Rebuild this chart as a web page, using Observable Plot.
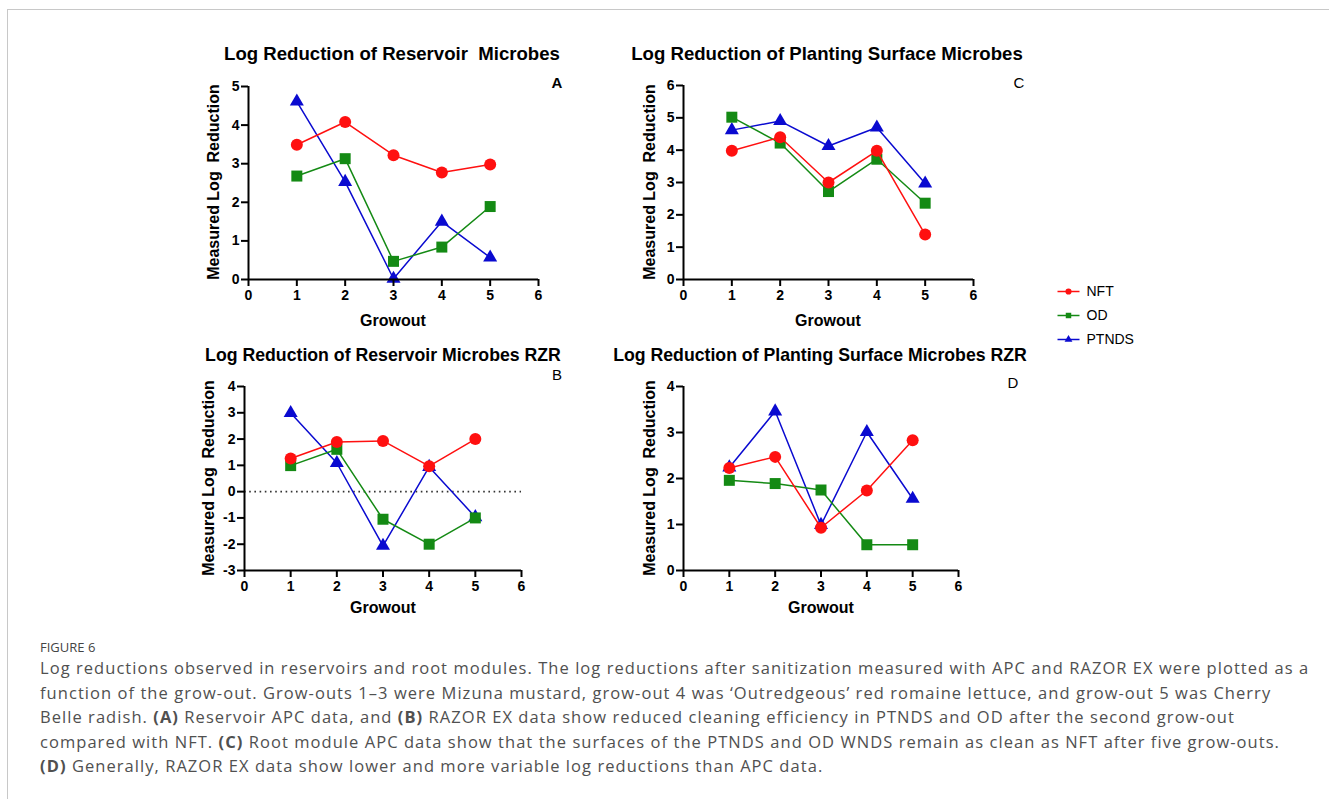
<!DOCTYPE html>
<html>
<head>
<meta charset="utf-8">
<script src="https://cdn.jsdelivr.net/npm/d3@7"></script>
<script src="https://cdn.jsdelivr.net/npm/@observablehq/plot@0.6"></script>
<style>
  html, body { margin: 0; padding: 0; background: #fff; }
  #root { position: relative; width: 1329px; height: 799px; overflow: hidden; font-family: "Liberation Sans", Arial, sans-serif; }
  .border { position: absolute; left: 7px; top: 9px; right: -2px; bottom: -2px; border-top: 1px solid #c8c8c8; border-left: 1px solid #c8c8c8; }
  .abs { position: absolute; white-space: pre; }
  .title { font-weight: bold; font-size: 18.6px; color: #000; transform: translate(-50%, -50%); }
  .title2 { font-weight: bold; font-size: 17.7px; color: #000; transform: translate(-50%, -50%); }
  .xlab { font-weight: bold; font-size: 16px; color: #000; transform: translate(-50%, -50%); }
  .ylab { font-weight: bold; font-size: 16px; color: #000; transform: translate(-50%, -50%) rotate(-90deg); }
  .letter { font-size: 15px; color: #000; transform: translate(-50%, -50%); }
  .caption { font-family: "Open Sans", sans-serif; color: #505050; }
  svg { overflow: visible; }
</style>
</head>
<body>
<div id="root">
  <div class="border"></div>
</div>
<script>
// ---------------- data ----------------
const growout = [1, 2, 3, 4, 5];
const seriesNames = ["NFT", "OD", "PTNDS"];
const seriesColors = ["#ff1010", "#148a14", "#0a0ad0"];
const seriesSymbols = ["circle", "square", "triangle"];
const xTicks = [0, 1, 2, 3, 4, 5, 6];

// Panel A: Log Reduction of Reservoir Microbes (APC)
const resNFT   = [3.49, 4.08, 3.22, 2.77, 2.98];
const resOD    = [2.68, 3.13, 0.47, 0.84, 1.89];
const resPTNDS = [4.61, 2.53, 0.02, 1.50, 0.57];
// Panel C: Log Reduction of Planting Surface Microbes (APC)
const surfNFT   = [3.98, 4.40, 3.00, 3.98, 1.39];
const surfOD    = [5.02, 4.22, 2.72, 3.72, 2.36];
const surfPTNDS = [4.62, 4.90, 4.13, 4.70, 2.97];
// Panel B: Log Reduction of Reservoir Microbes RZR
const resRzrNFT   = [1.26, 1.89, 1.93, 0.97, 2.00];
const resRzrOD    = [0.99, 1.61, -1.05, -2.00, -1.00];
const resRzrPTNDS = [2.99, 1.09, -2.06, 0.94, -0.97];
// Panel D: Log Reduction of Planting Surface Microbes RZR
const surfRzrNFT   = [2.23, 2.47, 0.93, 1.74, 2.83];
const surfRzrOD    = [1.96, 1.89, 1.75, 0.56, 0.56];
const surfRzrPTNDS = [2.24, 3.46, 0.99, 3.01, 1.56];

const titleA = "Log Reduction of Reservoir  Microbes";
const titleB = "Log Reduction of Reservoir Microbes RZR";
const titleC = "Log Reduction of Planting Surface Microbes";
const titleD = "Log Reduction of Planting Surface Microbes RZR";
const xLabel = "Growout";
const yLabel = "Measured Log  Reduction";

const captionHead = "FIGURE 6";

// ---------------- helpers ----------------
const root = document.getElementById("root");

function addDiv(cls, text, left, top, html) {
  const d = document.createElement("div");
  d.className = "abs " + cls;
  if (html) d.innerHTML = text; else d.textContent = text;
  d.style.left = left + "px";
  d.style.top = top + "px";
  root.appendChild(d);
  return d;
}

function rowsFor(values, name) {
  return growout.map((g, i) => ({ x: g, y: values[i], s: name }));
}

function panel(cfg) {
  const yMin = cfg.yDomain[0];
  const marks = [];
  if (cfg.zeroLine) {
    marks.push(Plot.ruleY([0], { stroke: "#333", strokeWidth: 1.6, strokeDasharray: "1.6,3.6" }));
  }
  // draw PTNDS first, then OD, then NFT on top
  for (let k = seriesNames.length - 1; k >= 0; k--) {
    const rows = rowsFor(cfg.series[k], seriesNames[k]);
    marks.push(Plot.line(rows, { x: "x", y: "y", stroke: "s", strokeWidth: 1.5 }));
    marks.push(Plot.dot(rows, {
      x: "x", y: "y", fill: "s", stroke: "none",
      symbol: () => seriesSymbols[k],
      r: seriesSymbols[k] === "circle" ? 6 : (seriesSymbols[k] === "square" ? 6.2 : 5.2)
    }));
  }
  marks.push(Plot.ruleX([0], { stroke: "#000", strokeWidth: 2 }));
  marks.push(Plot.ruleY([yMin], { stroke: "#000", strokeWidth: 2 }));
  marks.push(Plot.axisX(xTicks, { tickSize: 7, tickPadding: 4, strokeWidth: 2, fontWeight: "bold", fontSize: 14, label: null, fill: "#000", stroke: "#000" }));
  marks.push(Plot.axisY(cfg.yTicks, { tickSize: 7, tickPadding: 2, strokeWidth: 2, fontWeight: "bold", fontSize: 14, label: null, fill: "#000", stroke: "#000", tickFormat: d => d < 0 ? "-" + Math.abs(d) : String(d) }));

  const p = Plot.plot({
    width: cfg.w, height: cfg.h,
    marginLeft: cfg.ml, marginRight: cfg.mr, marginTop: cfg.mt, marginBottom: cfg.mb,
    x: { domain: [0, 6], label: null },
    y: { domain: cfg.yDomain, label: null },
    color: { domain: seriesNames, range: seriesColors },
    style: { fontFamily: "'Liberation Sans', Arial, sans-serif", background: "transparent", color: "#000", overflow: "visible" },
    marks
  });
  p.style.position = "absolute";
  p.style.left = cfg.left + "px";
  p.style.top = cfg.top + "px";
  root.appendChild(p);
}

// ---------------- panels ----------------
panel({ left: 190, top: 70, w: 380, h: 260, ml: 58, mr: 32, mt: 16, mb: 51,
  yDomain: [0, 5], yTicks: [0, 1, 2, 3, 4, 5], series: [resNFT, resOD, resPTNDS] });
panel({ left: 625, top: 70, w: 380, h: 260, ml: 58, mr: 32, mt: 15, mb: 51,
  yDomain: [0, 6], yTicks: [0, 1, 2, 3, 4, 5, 6], series: [surfNFT, surfOD, surfPTNDS] });
panel({ left: 186, top: 370, w: 380, h: 250, ml: 58, mr: 45, mt: 16, mb: 50,
  yDomain: [-3, 4], yTicks: [-3, -2, -1, 0, 1, 2, 3, 4], series: [resRzrNFT, resRzrOD, resRzrPTNDS], zeroLine: true });
panel({ left: 625, top: 370, w: 380, h: 250, ml: 58, mr: 47, mt: 16, mb: 50,
  yDomain: [0, 4], yTicks: [0, 1, 2, 3, 4], series: [surfRzrNFT, surfRzrOD, surfRzrPTNDS] });

// titles, labels
addDiv("title", titleA, 392, 54);
addDiv("title", titleC, 827, 54);
addDiv("title2", titleB, 383, 355);
addDiv("title2", titleD, 820, 355);

addDiv("letter", "A", 557, 82).style.fontWeight = "bold";
addDiv("letter", "C", 1019, 82);
addDiv("letter", "B", 557, 374);
addDiv("letter", "D", 1013, 382);

addDiv("xlab", xLabel, 393, 321);
addDiv("xlab", xLabel, 828, 321);
addDiv("xlab", xLabel, 383, 608);
addDiv("xlab", xLabel, 821, 608);

addDiv("ylab", yLabel, 214, 182);
addDiv("ylab", yLabel, 650, 182);
addDiv("ylab", yLabel, 209, 478);
addDiv("ylab", yLabel, 650, 478);

// ---------------- legend ----------------
const legendRows = seriesNames.map((s, i) => ({ s, i, sym: seriesSymbols[i] }));
const legendY = [16, 40, 64];
const legend = Plot.plot({
  width: 110, height: 80, margin: 0,
  x: { type: "identity", axis: null }, y: { type: "identity", axis: null },
  color: { domain: seriesNames, range: seriesColors },
  style: { fontFamily: "'Liberation Sans', Arial, sans-serif", background: "transparent", overflow: "visible" },
  marks: [
    Plot.link(legendRows, { x1: () => 7, x2: () => 29, y1: d => legendY[d.i], y2: d => legendY[d.i], stroke: "s", strokeWidth: 1.5 }),
    Plot.dot(legendRows, { x: () => 18, y: d => legendY[d.i], fill: "s", stroke: "none", symbol: "sym",
      r: d => d.sym === "circle" ? 4.5 : (d.sym === "square" ? 4.5 : 4) }),
    Plot.text(legendRows, { x: () => 36, y: d => legendY[d.i], text: "s", textAnchor: "start", fontSize: 14, fill: "#000" })
  ]
});
legend.style.position = "absolute";
legend.style.left = "1050px";
legend.style.top = "275px";
root.appendChild(legend);

// ---------------- caption ----------------
const head = addDiv("caption", captionHead, 40, 638);
head.style.fontSize = "13px";
head.style.color = "#444";

const captionLines = [
  "Log reductions observed in reservoirs and root modules. The log reductions after sanitization measured with APC and RAZOR EX were plotted as a",
  "function of the grow-out. Grow-outs 1–3 were Mizuna mustard, grow-out 4 was ‘Outredgeous’ red romaine lettuce, and grow-out 5 was Cherry",
  "Belle radish. <b>(A)</b> Reservoir APC data, and <b>(B)</b> RAZOR EX data show reduced cleaning efficiency in PTNDS and OD after the second grow-out",
  "compared with NFT. <b>(C)</b> Root module APC data show that the surfaces of the PTNDS and OD WNDS remain as clean as NFT after five grow-outs.",
  "<b>(D)</b> Generally, RAZOR EX data show lower and more variable log reductions than APC data."
];
captionLines.forEach((t, i) => {
  const d = addDiv("caption", t, 40, 657 + i * 24.6, true);
  d.style.fontSize = "16.5px";
  d.style.letterSpacing = "1.05px";
  d.style.lineHeight = "22px";
});
</script>
</body>
</html>
